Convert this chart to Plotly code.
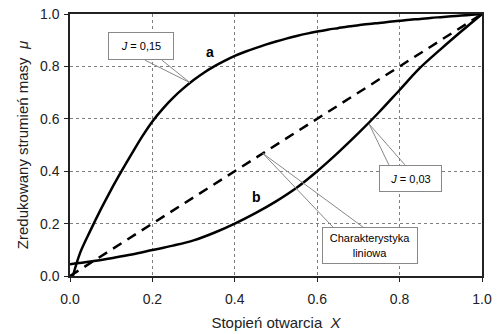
import plotly.graph_objects as go

# Curve a: J = 0,15
xa = [0.007, 0.025, 0.05, 0.075, 0.1, 0.125, 0.15, 0.175, 0.2, 0.225, 0.25, 0.275, 0.3, 0.325, 0.35,
      0.375, 0.4, 0.425, 0.45, 0.475, 0.5, 0.525, 0.55, 0.575, 0.6, 0.625, 0.65, 0.675, 0.7,
      0.725, 0.75, 0.775, 0.8, 0.825, 0.85, 0.875, 0.9, 0.925, 0.95, 0.975, 1.0]
ya = [0.0, 0.09, 0.175, 0.255, 0.33, 0.40, 0.467, 0.532, 0.59, 0.638, 0.68, 0.716, 0.748, 0.776, 0.80,
      0.821, 0.84, 0.856, 0.87, 0.883, 0.895, 0.906, 0.916, 0.925, 0.933, 0.94, 0.946, 0.952, 0.957,
      0.962, 0.966, 0.970, 0.974, 0.978, 0.981, 0.985, 0.988, 0.991, 0.994, 0.997, 1.0]

# Curve b: J = 0,03
xb = [0.0, 0.05, 0.1, 0.15, 0.2, 0.25, 0.3, 0.35, 0.4, 0.45, 0.5, 0.55, 0.6, 0.65, 0.7,
      0.75, 0.8, 0.85, 0.9, 0.95, 1.0]
yb = [0.045, 0.055, 0.068, 0.082, 0.099, 0.116, 0.136, 0.165, 0.20, 0.24, 0.285, 0.337, 0.40,
      0.47, 0.545, 0.625, 0.71, 0.795, 0.866, 0.934, 1.0]

# Linear characteristic
xl = [0.0, 1.0]
yl = [0.0, 1.0]

ticks = [0.0, 0.2, 0.4, 0.6, 0.8, 1.0]
tick_text = ["0.0", "0.2", "0.4", "0.6", "0.8", "1.0"]

FONT = "Liberation Sans, Arial, sans-serif"

fig = go.Figure()
fig.add_trace(go.Scatter(x=xa, y=ya, mode="lines", line=dict(color="black", width=2.5, shape="spline", smoothing=1.0), hoverinfo="skip"))
fig.add_trace(go.Scatter(x=xb, y=yb, mode="lines", line=dict(color="black", width=2.5, shape="spline", smoothing=1.0), hoverinfo="skip"))
fig.add_trace(go.Scatter(x=xl, y=yl, mode="lines", line=dict(color="black", width=2.5, dash="10px,7px"), hoverinfo="skip"))

# callout wedges (leader lines)
wedges = [
    [(0.182, 0.824), (0.291, 0.738), (0.223, 0.824)],
    [(0.774, 0.424), (0.726, 0.58), (0.813, 0.424)],
    [(0.638, 0.187), (0.468, 0.468), (0.711, 0.187)],
]
for w in wedges:
    path = "M {} {} L {} {} L {} {}".format(w[0][0], w[0][1], w[1][0], w[1][1], w[2][0], w[2][1])
    fig.add_shape(type="path", path=path, xref="x", yref="y", line=dict(color="#888888", width=1), layer="above")

boxes = [
    ("<i>J</i> = 0,15", 0.172, 0.878, 64, 26),
    ("<i>J</i> = 0,03", 0.826, 0.372, 61, 25),
    ("Charakterystyka<br>liniowa", 0.728, 0.117, 94, 35),
]
for txt, bx, by, w, h in boxes:
    fig.add_annotation(x=bx, y=by, xref="x", yref="y", text=txt, showarrow=False,
                       font=dict(family=FONT, size=11, color="black"),
                       bgcolor="white", bordercolor="#888888", borderwidth=1, borderpad=0,
                       width=w, height=h, align="center", valign="middle")

fig.add_annotation(x=0.34, y=0.855, xref="x", yref="y", text="<b>a</b>", showarrow=False,
                   font=dict(family=FONT, size=14, color="black"))
fig.add_annotation(x=0.453, y=0.30, xref="x", yref="y", text="<b>b</b>", showarrow=False,
                   font=dict(family=FONT, size=14, color="black"))

axis_common = dict(
    range=[0, 1], tickvals=ticks, ticktext=tick_text,
    showgrid=True, gridcolor="#7f7f7f", gridwidth=1, griddash="dot",
    showline=True, linecolor="#222222", linewidth=1.5, mirror=True,
    ticks="outside", ticklen=4, tickcolor="#222222", tickwidth=1,
    tickfont=dict(family=FONT, size=14, color="#222222"),
    zeroline=False, automargin=False,
)

fig.update_layout(
    width=500, height=334,
    margin=dict(l=70, r=18, t=14, b=58),
    paper_bgcolor="white", plot_bgcolor="white",
    showlegend=False,
    xaxis=dict(**axis_common, ticklabelstandoff=5,
               title=dict(text="Stopień otwarcia  <i>X</i>", font=dict(family=FONT, size=15, color="#222222"), standoff=12)),
    yaxis=dict(**axis_common, ticklabelstandoff=2,
               title=dict(text="Zredukowany strumień masy  <i>μ</i>", font=dict(family=FONT, size=15, color="#222222"), standoff=8)),
)

fig.write_html("out.html")
